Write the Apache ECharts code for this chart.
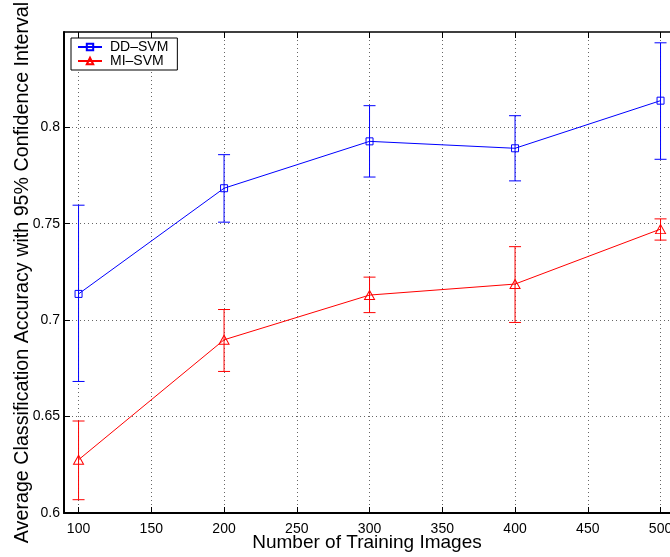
<!DOCTYPE html>
<html>
<head>
<meta charset="utf-8">
<script src="https://cdn.jsdelivr.net/npm/echarts@6/dist/echarts.min.js"></script>
<style>
html,body{margin:0;padding:0;background:#fff;}
#chart{width:670px;height:557px;}
</style>
</head>
<body>
<div id="chart"></div>
<script>
const xValues = [100, 200, 300, 400, 500];
const ddMean = [0.7136, 0.7684, 0.7927, 0.7891, 0.8138];
const ddLow  = [0.6682, 0.7508, 0.7742, 0.7722, 0.7834];
const ddHigh = [0.7596, 0.7858, 0.8112, 0.8060, 0.8438];
const miMean = [0.6276, 0.6898, 0.7130, 0.7187, 0.7472];
const miLow  = [0.6069, 0.6734, 0.7039, 0.6988, 0.7415];
const miHigh = [0.6477, 0.7055, 0.7223, 0.7381, 0.7525];
const seriesNames = ['DD\u2013SVM', 'MI\u2013SVM'];
const xTitle = 'Number of Training Images';
const yTitle = 'Average Classification Accuracy with 95% Confidence Interval';

const FONT = 'Liberation Sans, Arial, Helvetica, sans-serif';
const BLUE = '#0000ff';
const RED = '#ff0000';

function errData(lo, hi) {
  return xValues.map((x, i) => [x, lo[i], hi[i]]);
}
function errRender(color) {
  return function (params, api) {
    const x = api.value(0);
    const p1 = api.coord([x, api.value(1)]);
    const p2 = api.coord([x, api.value(2)]);
    const hw = 6;
    const style = { stroke: color, lineWidth: 1, fill: null };
    return {
      type: 'group',
      children: [
        { type: 'line', shape: { x1: p1[0], y1: p1[1], x2: p2[0], y2: p2[1] }, style },
        { type: 'line', shape: { x1: p1[0] - hw, y1: p1[1], x2: p1[0] + hw, y2: p1[1] }, style },
        { type: 'line', shape: { x1: p2[0] - hw, y1: p2[1], x2: p2[0] + hw, y2: p2[1] }, style }
      ]
    };
  };
}

const chart = echarts.init(document.getElementById('chart'), null, { renderer: 'canvas' });
const gridLine = { show: true, showMinLine: false, showMaxLine: false,
  lineStyle: { color: '#666', type: [1, 3], width: 1 } };

chart.setOption({
  backgroundColor: '#fff',
  animation: false,
  textStyle: { fontFamily: FONT },
  grid: { left: 64, right: 0, top: 32, bottom: 44, containLabel: false, outerBoundsMode: 'none' },
  legend: {
    data: seriesNames,
    orient: 'vertical',
    left: 71, top: 38,
    backgroundColor: '#fff',
    borderColor: '#000', borderWidth: 1, borderRadius: 0,
    padding: [2, 9, 2, 6],
    itemGap: 0, itemWidth: 24, itemHeight: 8,
    textStyle: { fontFamily: FONT, fontSize: 14, color: '#000', padding: [0, 0, 0, 3] }
  },
  xAxis: [{
    type: 'value', min: 90, max: 506.5, splitNumber: 8,
    name: xTitle, nameLocation: 'middle', nameGap: 20, nameMoveOverlap: false,
    nameTextStyle: { fontFamily: FONT, fontSize: 19, color: '#000' },
    axisLine: { show: true, onZero: false, lineStyle: { color: '#000', width: 2 } },
    axisTick: { show: true, inside: true, length: 6, lineStyle: { color: '#000', width: 1 } },
    axisLabel: { fontFamily: FONT, fontSize: 14, color: '#000', margin: 9,
      showMinLabel: false, showMaxLabel: false,
      formatter: v => (Math.abs(v % 50) < 1e-6 ? String(v) : '') },
    splitLine: gridLine
  }, {
    type: 'value', position: 'top', min: 90, max: 506.5, splitNumber: 8,
    axisLine: { show: true, onZero: false, lineStyle: { color: '#000', width: 1.5 } },
    axisTick: { show: true, inside: true, length: 6, lineStyle: { color: '#000', width: 1 } },
    axisLabel: { show: false },
    splitLine: { show: false }
  }],
  yAxis: {
    type: 'value', min: 0.6, max: 0.8494, interval: 0.05,
    name: yTitle, nameLocation: 'middle', nameGap: 31, nameMoveOverlap: false,
    nameTextStyle: { fontFamily: FONT, fontSize: 19.7, color: '#000' },
    axisLine: { show: true, onZero: false, lineStyle: { color: '#000', width: 2 } },
    axisTick: { show: true, inside: true, length: 6, lineStyle: { color: '#000', width: 1 } },
    axisLabel: { fontFamily: FONT, fontSize: 14, color: '#000', margin: 4,
      showMaxLabel: false,
      formatter: v => String(Math.round(v * 100) / 100) },
    splitLine: gridLine
  },
  series: [{
    name: seriesNames[0], type: 'line',
    data: xValues.map((x, i) => [x, ddMean[i]]),
    symbol: 'rect', symbolSize: 7,
    lineStyle: { color: BLUE, width: 1 },
    itemStyle: { color: 'rgba(255,255,255,0)', borderColor: BLUE, borderWidth: 1 },
    z: 3
  }, {
    name: seriesNames[1], type: 'line',
    data: xValues.map((x, i) => [x, miMean[i]]),
    symbol: 'triangle', symbolSize: [10, 9],
    lineStyle: { color: RED, width: 1 },
    itemStyle: { color: 'rgba(255,255,255,0)', borderColor: RED, borderWidth: 1 },
    z: 3
  }, {
    name: 'ddErr', type: 'custom', data: errData(ddLow, ddHigh),
    renderItem: errRender(BLUE), z: 4, silent: true
  }, {
    name: 'miErr', type: 'custom', data: errData(miLow, miHigh),
    renderItem: errRender(RED), z: 4, silent: true
  }]
});
</script>
</body>
</html>
